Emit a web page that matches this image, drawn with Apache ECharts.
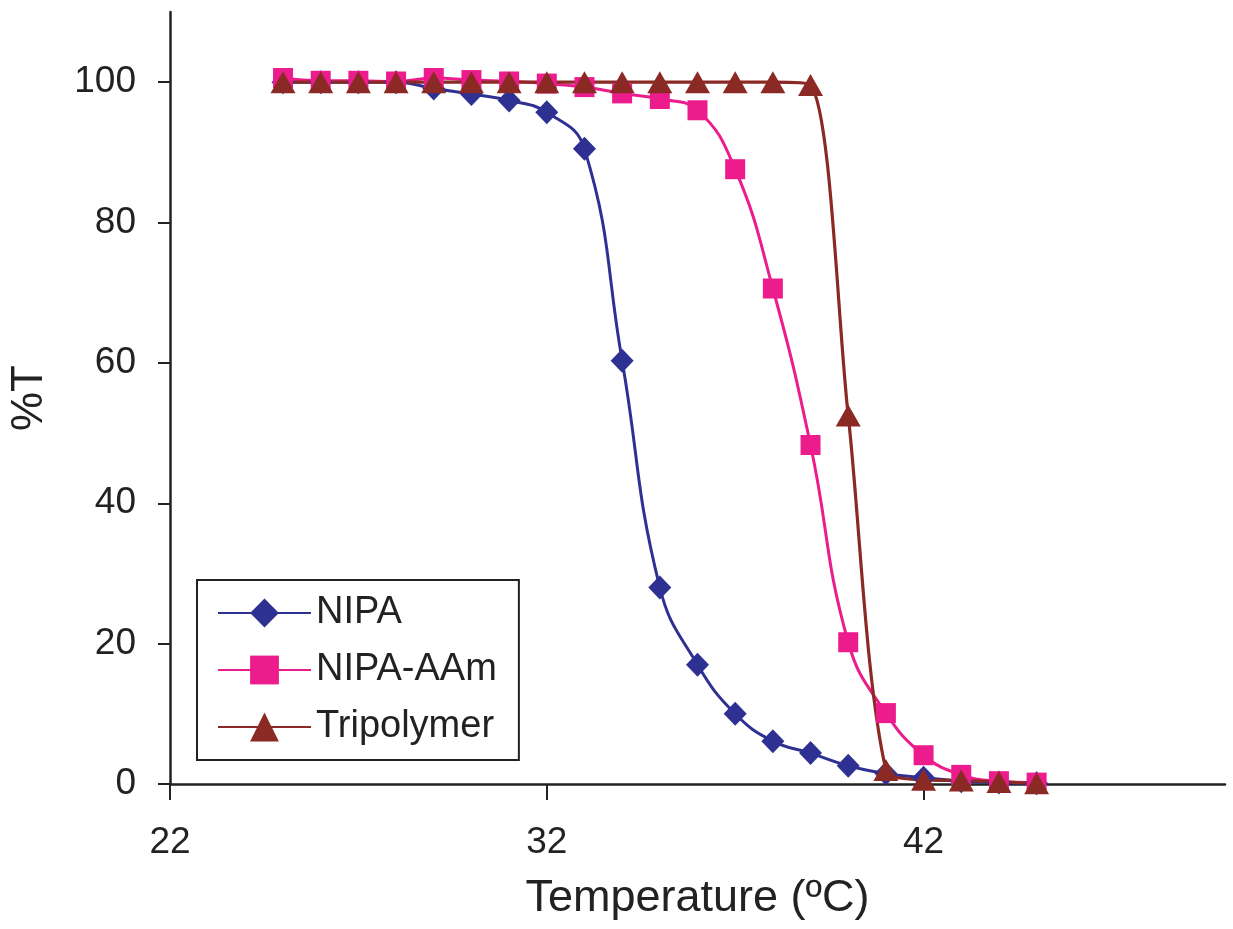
<!DOCTYPE html>
<html>
<head>
<meta charset="utf-8">
<script src="https://cdn.jsdelivr.net/npm/echarts@6/dist/echarts.min.js"></script>
<style>
  html, body { margin: 0; padding: 0; background: #fff; }
  #chart { width: 1233px; height: 929px; }
</style>
</head>
<body>
<div id="chart"></div>
<script>
// temperatures (ºC) of the measured points
const temps = [25, 26, 27, 28, 29, 30, 31, 32, 33, 34, 35, 36, 37, 38, 39, 40, 41, 42, 43, 44, 45]

// %T
const nipa = [100, 100, 100, 100, 99.1, 98.3, 97.4, 95.7, 90.5, 60.3, 28, 17, 10, 6.1, 4.4, 2.6, 1.5, 0.9, 0.4, 0.2, 0.1]
const nipaAAm = [100.6, 100.2, 100.2, 100.1, 100.6, 100.3, 100.1, 99.8, 99.3, 98.4, 97.6, 96, 87.6, 70.6, 48.3, 20.2, 10.1, 4.1, 1.3, 0.4, 0.2]
const tripolymer = [100, 100, 100, 100, 100, 100, 100, 100, 100, 100, 100, 100, 100, 100, 99.6, 52.5, 2, 0.6, 0.5, 0.3, 0.1]

const xTicks = [22, 32, 42]
const yTicks = [0, 20, 40, 60, 80, 100]

const font = "'Liberation Sans', Arial, Helvetica, sans-serif"

const chart = echarts.init(document.getElementById('chart'))

function pairs(vals) {
  return temps.map((t, i) => [t, vals[i]])
}

function lineSeries(name, vals, color, symbol, size, width, smooth) {
  return {
    name: name,
    type: 'line',
    data: pairs(vals),
    smooth: smooth,
    symbol: symbol,
    symbolSize: size,
    showAllSymbol: true,
    lineStyle: { color: color, width: width },
    itemStyle: { color: color },
    emphasis: { disabled: true },
    animation: false
  }
}

const option = {
  backgroundColor: '#fff',
  textStyle: { fontFamily: font },
  grid: { left: 169, right: 8, top: 12, bottom: 145 },
  legend: {
    orient: 'vertical',
    left: 197,
    top: 580,
    padding: [14, 22, 14, 20],
    borderColor: '#222',
    borderWidth: 2,
    itemWidth: 93,
    itemHeight: 36,
    itemGap: 19,
    textStyle: { fontFamily: font, fontSize: 38, color: '#222' },
    data: ['NIPA', 'NIPA-AAm', 'Tripolymer']
  },
  xAxis: {
    type: 'value',
    min: 22,
    max: 50,
    interval: 10,
    name: 'Temperature (ºC)',
    nameLocation: 'middle',
    nameGap: 92,
    nameTextStyle: { fontFamily: font, fontSize: 45, color: '#222' },
    axisLine: { show: true, lineStyle: { color: '#222', width: 2.5 } },
    axisTick: { show: true, length: 16, lineStyle: { color: '#222', width: 2 }, customValues: xTicks },
    axisLabel: { fontFamily: font, fontSize: 37, color: '#222', margin: 40, customValues: xTicks },
    splitLine: { show: false }
  },
  yAxis: {
    type: 'value',
    min: 0,
    max: 110,
    interval: 20,
    name: '%T',
    nameLocation: 'middle',
    nameGap: 118,
    nameTextStyle: { fontFamily: font, fontSize: 44, color: '#222' },
    axisLine: { show: true, lineStyle: { color: '#222', width: 2.5 } },
    axisTick: { show: true, length: 12, lineStyle: { color: '#222', width: 2 }, customValues: yTicks },
    axisLabel: { fontFamily: font, fontSize: 37, color: '#222', margin: 34, customValues: yTicks },
    splitLine: { show: false }
  },
  series: [
    lineSeries('NIPA', nipa, '#2e3192', 'diamond', [23, 24], 3, 0.45),
    lineSeries('NIPA-AAm', nipaAAm, '#ec1c8c', 'rect', [20, 20], 3, 0.45),
    lineSeries('Tripolymer', tripolymer, '#8b2a25', 'triangle', [25, 22], 3.2, 0.3)
  ]
}

chart.setOption(option)
</script>
</body>
</html>
